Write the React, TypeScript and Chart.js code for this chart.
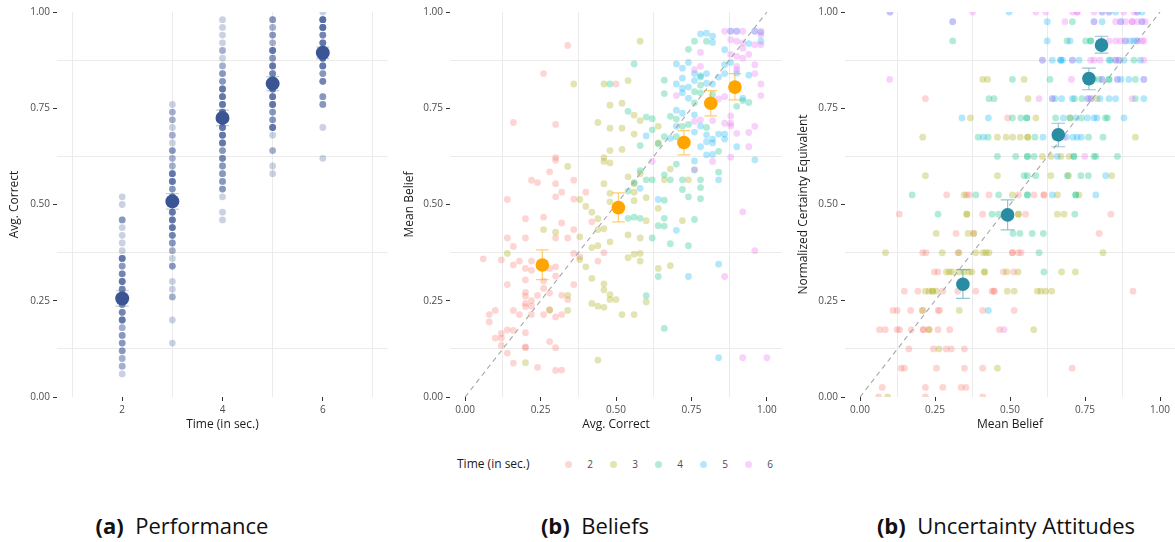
import React, { useEffect, useRef } from "react";
import { Chart, registerables } from "chart.js";

Chart.register(...registerables);

const FONT = "'Open Sans', 'Noto Sans', sans-serif";
const GRID = "#ebebeb";
const TICK = "#333333";
const NONE = "rgba(0,0,0,0)";

// ---------- (a) Performance: [avg. correct, participants at that value] ----------
const timeLevels = [2, 3, 4, 5, 6];
const perfT2 = [[0.52,1],[0.5,1],[0.46,3],[0.44,1],[0.42,1],[0.4,1],[0.38,1],[0.36,5],[0.34,3],[0.32,4],[0.3,5],[0.28,4],[0.26,3],[0.24,3],[0.22,4],[0.2,5],[0.18,2],[0.16,3],[0.14,3],[0.12,3],[0.1,2],[0.08,2],[0.06,1]];
const perfT3 = [[0.76,1],[0.74,2],[0.72,2],[0.7,1],[0.68,2],[0.66,1],[0.64,3],[0.62,2],[0.6,2],[0.58,5],[0.56,5],[0.54,3],[0.52,4],[0.5,4],[0.48,5],[0.46,5],[0.44,5],[0.42,4],[0.4,3],[0.38,2],[0.36,1],[0.34,3],[0.3,1],[0.28,1],[0.26,2],[0.2,1],[0.14,1]];
const perfT4 = [[0.98,1],[0.96,1],[0.94,1],[0.92,1],[0.9,2],[0.88,1],[0.86,2],[0.84,3],[0.82,3],[0.8,5],[0.78,5],[0.76,5],[0.74,5],[0.72,5],[0.7,5],[0.68,5],[0.66,5],[0.64,3],[0.62,4],[0.6,3],[0.58,3],[0.56,3],[0.54,3],[0.52,1],[0.48,1],[0.46,1]];
const perfT5 = [[0.98,3],[0.96,2],[0.94,3],[0.92,2],[0.9,5],[0.88,3],[0.86,5],[0.84,4],[0.82,5],[0.8,5],[0.78,5],[0.76,5],[0.74,3],[0.72,3],[0.7,5],[0.68,1],[0.64,2],[0.6,1],[0.58,1]];
const perfT6 = [[1,1],[0.98,6],[0.96,6],[0.94,4],[0.92,5],[0.9,6],[0.88,6],[0.86,5],[0.84,3],[0.82,4],[0.78,3],[0.76,3],[0.7,1],[0.62,1]];
const perfMeans = [0.256, 0.508, 0.725, 0.814, 0.894];
const perfLow = [0.236, 0.488, 0.705, 0.796, 0.879];
const perfHigh = [0.276, 0.528, 0.745, 0.832, 0.909];

// ---------- (b) Beliefs: [avg. correct, mean belief] ----------
const belT2 = [[0.34,0.913],[0.26,0.84],[0.16,0.713],[0.3,0.708],[0.3,0.622],[0.3,0.615],[0.28,0.585],[0.22,0.563],[0.24,0.557],[0.3,0.554],[0.36,0.563],[0.32,0.532],[0.4,0.532],[0.14,0.513],[0.3,0.52],[0.36,0.514],[0.2,0.463],[0.26,0.467],[0.32,0.452],[0.42,0.455],[0.14,0.413],[0.2,0.413],[0.3,0.413],[0.34,0.413],[0.16,0.391],[0.36,0.435],[0.06,0.359],[0.12,0.356],[0.18,0.353],[0.22,0.353],[0.36,0.373],[0.46,0.375],[0.38,0.364],[0.44,0.353],[0.16,0.343],[0.2,0.334],[0.22,0.329],[0.26,0.338],[0.28,0.334],[0.3,0.338],[0.2,0.304],[0.26,0.301],[0.3,0.314],[0.14,0.292],[0.36,0.292],[0.26,0.282],[0.2,0.272],[0.24,0.264],[0.28,0.27],[0.2,0.262],[0.32,0.264],[0.22,0.25],[0.2,0.243],[0.34,0.253],[0.2,0.235],[0.22,0.236],[0.28,0.226],[0.16,0.225],[0.1,0.225],[0.08,0.214],[0.18,0.214],[0.22,0.214],[0.26,0.214],[0.3,0.208],[0.32,0.214],[0.08,0.195],[0.12,0.165],[0.14,0.174],[0.16,0.173],[0.2,0.167],[0.1,0.153],[0.12,0.153],[0.12,0.134],[0.2,0.13],[0.2,0.128],[0.14,0.114],[0.28,0.144],[0.3,0.128],[0.16,0.088],[0.24,0.077],[0.3,0.069],[0.32,0.07],[0.5,0.813]];
const belT3 = [[0.58,0.924],[0.36,0.813],[0.46,0.813],[0.54,0.822],[0.48,0.758],[0.52,0.763],[0.56,0.732],[0.58,0.718],[0.44,0.713],[0.48,0.698],[0.52,0.698],[0.56,0.683],[0.64,0.703],[0.48,0.64],[0.52,0.643],[0.46,0.622],[0.46,0.612],[0.48,0.608],[0.34,0.599],[0.64,0.66],[0.68,0.592],[0.66,0.564],[0.74,0.564],[0.58,0.58],[0.54,0.572],[0.56,0.554],[0.46,0.554],[0.38,0.513],[0.4,0.495],[0.48,0.529],[0.56,0.532],[0.56,0.51],[0.6,0.518],[0.48,0.507],[0.64,0.49],[0.42,0.48],[0.44,0.463],[0.6,0.458],[0.26,0.435],[0.3,0.428],[0.38,0.416],[0.46,0.437],[0.44,0.435],[0.58,0.413],[0.48,0.403],[0.54,0.421],[0.14,0.373],[0.42,0.388],[0.44,0.393],[0.56,0.371],[0.58,0.373],[0.54,0.362],[0.38,0.357],[0.58,0.353],[0.4,0.338],[0.68,0.341],[0.64,0.334],[0.42,0.308],[0.46,0.294],[0.46,0.278],[0.48,0.266],[0.48,0.253],[0.5,0.253],[0.34,0.264],[0.42,0.243],[0.44,0.236],[0.46,0.233],[0.34,0.225],[0.28,0.226],[0.52,0.214],[0.56,0.214],[0.6,0.247],[0.2,0.089],[0.44,0.096],[0.72,0.458]];
const belT4 = [[0.56,0.865],[0.48,0.813],[0.66,0.823],[0.66,0.788],[0.54,0.742],[0.6,0.727],[0.62,0.723],[0.58,0.653],[0.62,0.694],[0.66,0.676],[0.7,0.722],[0.68,0.729],[0.72,0.703],[0.74,0.708],[0.7,0.676],[0.76,0.793],[0.76,0.764],[0.78,0.831],[0.74,0.903],[0.76,0.924],[0.8,0.924],[0.64,0.658],[0.58,0.588],[0.6,0.564],[0.62,0.564],[0.66,0.577],[0.68,0.564],[0.7,0.605],[0.72,0.564],[0.72,0.539],[0.74,0.52],[0.76,0.59],[0.78,0.564],[0.78,0.544],[0.78,0.515],[0.56,0.557],[0.54,0.535],[0.54,0.464],[0.56,0.467],[0.58,0.464],[0.66,0.511],[0.66,0.464],[0.66,0.444],[0.64,0.445],[0.68,0.398],[0.76,0.461],[0.74,0.393],[0.62,0.413],[0.64,0.313],[0.6,0.263],[0.66,0.178],[0.9,0.755],[0.94,0.765],[0.92,0.77],[0.84,0.638],[0.84,0.584],[0.82,0.786],[0.78,0.79],[0.78,0.81],[0.8,0.7]];
const belT5 = [[0.78,0.943],[0.8,0.945],[0.82,0.937],[0.82,0.921],[0.86,0.902],[0.7,0.865],[0.72,0.854],[0.74,0.869],[0.72,0.828],[0.76,0.84],[0.78,0.835],[0.8,0.84],[0.7,0.813],[0.72,0.802],[0.74,0.805],[0.76,0.822],[0.8,0.815],[0.82,0.813],[0.84,0.831],[0.86,0.84],[0.86,0.863],[0.88,0.869],[0.9,0.841],[0.72,0.79],[0.74,0.776],[0.7,0.745],[0.72,0.737],[0.68,0.672],[0.7,0.703],[0.76,0.733],[0.76,0.688],[0.78,0.704],[0.78,0.65],[0.8,0.681],[0.8,0.663],[0.8,0.629],[0.82,0.63],[0.84,0.683],[0.86,0.683],[0.86,0.67],[0.6,0.678],[0.58,0.542],[0.64,0.513],[0.7,0.433],[0.74,0.313],[0.84,0.564],[0.84,0.345],[0.84,0.102],[0.76,0.613],[0.9,0.65],[0.88,0.95],[0.9,0.95],[0.94,0.918],[0.98,0.947],[0.98,0.924],[0.96,0.95],[0.96,0.616],[0.94,0.836],[0.92,0.776],[0.82,0.66],[0.82,0.67]];
const belT6 = [[0.88,0.95],[0.9,0.95],[0.92,0.95],[0.96,0.95],[0.98,0.95],[0.88,0.928],[0.9,0.924],[0.96,0.915],[0.98,0.915],[0.86,0.95],[0.78,0.895],[0.92,0.906],[0.94,0.89],[0.88,0.89],[0.9,0.885],[0.92,0.88],[0.76,0.85],[0.78,0.859],[0.9,0.859],[0.9,0.85],[0.96,0.863],[0.96,0.84],[0.98,0.813],[0.98,0.783],[0.7,0.783],[0.84,0.774],[0.86,0.78],[0.86,0.711],[0.88,0.711],[0.88,0.73],[0.88,0.704],[0.76,0.716],[0.78,0.72],[0.82,0.718],[0.9,0.685],[0.94,0.687],[0.96,0.703],[0.88,0.623],[0.82,0.612],[0.76,0.59],[0.62,0.612],[0.94,0.65],[0.92,0.481],[0.96,0.38],[0.86,0.313],[0.92,0.102],[1,0.102],[0.92,0.92],[0.98,0.94]];
const beliefMeans = [0.343, 0.492, 0.661, 0.763, 0.805];
const beliefLow = [0.305, 0.455, 0.629, 0.73, 0.772];
const beliefHigh = [0.382, 0.53, 0.692, 0.796, 0.84];

// ---------- (b) Uncertainty attitudes: [mean belief, normalized certainty equivalent] ----------
const ceT2 = [[0.218,0.775],[0.492,0.725],[0.289,0.525],[0.355,0.525],[0.364,0.525],[0.43,0.525],[0.528,0.525],[0.58,0.525],[0.613,0.525],[0.613,0.525],[0.131,0.475],[0.409,0.475],[0.552,0.475],[0.836,0.475],[0.32,0.425],[0.378,0.425],[0.797,0.425],[0.209,0.375],[0.22,0.375],[0.327,0.375],[0.508,0.375],[0.508,0.375],[0.528,0.375],[0.537,0.375],[0.248,0.325],[0.26,0.325],[0.478,0.325],[0.512,0.325],[0.148,0.275],[0.193,0.275],[0.276,0.275],[0.326,0.275],[0.386,0.275],[0.44,0.275],[0.447,0.275],[0.447,0.275],[0.91,0.275],[0.11,0.225],[0.124,0.225],[0.169,0.225],[0.21,0.225],[0.26,0.225],[0.265,0.225],[0.409,0.225],[0.514,0.225],[0.065,0.175],[0.084,0.175],[0.124,0.175],[0.132,0.175],[0.171,0.175],[0.211,0.175],[0.211,0.175],[0.23,0.175],[0.26,0.175],[0.299,0.175],[0.465,0.175],[0.163,0.125],[0.245,0.125],[0.287,0.125],[0.304,0.125],[0.348,0.125],[0.137,0.075],[0.148,0.075],[0.255,0.075],[0.348,0.075],[0.409,0.075],[0.707,0.075],[0.074,0.025],[0.218,0.025],[0.276,0.025],[0.337,0.025],[0.353,0.025],[0.062,0],[0.218,0],[0.409,0]];
const ceT3 = [[0.409,0.825],[0.425,0.825],[0.547,0.825],[0.56,0.775],[0.79,0.775],[0.368,0.725],[0.586,0.725],[0.7,0.725],[0.209,0.675],[0.458,0.675],[0.487,0.675],[0.509,0.675],[0.534,0.675],[0.559,0.675],[0.559,0.675],[0.66,0.675],[0.918,0.675],[0.608,0.625],[0.636,0.625],[0.67,0.625],[0.697,0.625],[0.218,0.575],[0.458,0.575],[0.636,0.575],[0.695,0.575],[0.839,0.575],[0.347,0.525],[0.508,0.525],[0.658,0.525],[0.73,0.525],[0.356,0.475],[0.356,0.475],[0.528,0.475],[0.528,0.475],[0.658,0.475],[0.68,0.475],[0.254,0.425],[0.36,0.425],[0.38,0.425],[0.085,0.375],[0.274,0.375],[0.33,0.375],[0.386,0.375],[0.41,0.375],[0.42,0.375],[0.43,0.375],[0.81,0.375],[0.288,0.325],[0.298,0.325],[0.308,0.325],[0.33,0.325],[0.346,0.325],[0.363,0.325],[0.373,0.325],[0.415,0.325],[0.415,0.325],[0.489,0.325],[0.527,0.325],[0.672,0.325],[0.718,0.325],[0.218,0.275],[0.23,0.275],[0.242,0.275],[0.242,0.275],[0.255,0.275],[0.491,0.275],[0.514,0.275],[0.591,0.275],[0.603,0.275],[0.619,0.275],[0.639,0.275],[0.207,0.225],[0.331,0.225],[0.23,0.175],[0.579,0.175],[0.263,0.125],[0.458,0.075],[0.092,0]];
const ceT4 = [[0.708,0.975],[0.309,0.925],[0.69,0.925],[0.752,0.925],[0.769,0.925],[0.769,0.925],[0.835,0.875],[0.913,0.875],[0.508,0.825],[0.633,0.825],[0.78,0.825],[0.797,0.825],[0.83,0.825],[0.83,0.825],[0.918,0.825],[0.43,0.775],[0.447,0.775],[0.715,0.775],[0.74,0.775],[0.918,0.775],[0.508,0.725],[0.536,0.725],[0.556,0.725],[0.556,0.725],[0.652,0.725],[0.7,0.725],[0.738,0.725],[0.818,0.725],[0.825,0.725],[0.394,0.675],[0.427,0.675],[0.583,0.675],[0.65,0.675],[0.762,0.675],[0.81,0.675],[0.458,0.625],[0.519,0.625],[0.558,0.625],[0.558,0.625],[0.58,0.625],[0.713,0.625],[0.713,0.625],[0.78,0.625],[0.786,0.625],[0.858,0.625],[0.547,0.575],[0.558,0.575],[0.586,0.575],[0.691,0.575],[0.736,0.575],[0.761,0.575],[0.174,0.525],[0.386,0.525],[0.462,0.525],[0.558,0.525],[0.558,0.525],[0.719,0.525],[0.719,0.525],[0.26,0.475],[0.44,0.475],[0.462,0.475],[0.716,0.475],[0.51,0.425],[0.533,0.425],[0.574,0.425],[0.611,0.425],[0.597,0.375],[0.613,0.325]];
const ceT5 = [[0.1,1],[0.497,1],[0.807,1],[0.83,1],[0.852,1],[0.924,1],[0.94,1],[0.309,0.975],[0.624,0.975],[0.78,0.975],[0.807,0.975],[0.869,0.975],[0.94,0.975],[0.624,0.925],[0.7,0.925],[0.885,0.925],[0.902,0.925],[0.913,0.925],[0.924,0.925],[0.608,0.875],[0.641,0.875],[0.669,0.875],[0.669,0.875],[0.675,0.875],[0.708,0.875],[0.73,0.875],[0.83,0.875],[0.852,0.875],[0.863,0.875],[0.88,0.875],[0.935,0.875],[0.807,0.825],[0.858,0.825],[0.87,0.825],[0.896,0.825],[0.946,0.825],[0.641,0.775],[0.65,0.775],[0.672,0.775],[0.708,0.775],[0.76,0.775],[0.77,0.775],[0.8,0.775],[0.83,0.775],[0.852,0.775],[0.946,0.775],[0.34,0.725],[0.428,0.725],[0.678,0.725],[0.72,0.725],[0.758,0.725],[0.78,0.725],[0.79,0.725],[0.88,0.725],[0.411,0.675],[0.61,0.675],[0.688,0.675],[0.71,0.675],[0.724,0.675],[0.738,0.675],[0.658,0.625],[0.819,0.575],[0.641,0.525],[0.786,0.525],[0.428,0.225]];
const ceT6 = [[0.1,1],[0.375,1],[0.586,1],[0.619,1],[0.708,1],[0.724,1],[0.724,1],[0.78,1],[0.807,1],[0.83,1],[0.879,1],[0.913,1],[0.924,1],[0.309,0.975],[0.683,0.975],[0.78,0.975],[0.852,0.975],[0.869,0.975],[0.885,0.975],[0.907,0.975],[0.907,0.975],[0.924,0.975],[0.94,0.975],[0.951,0.975],[0.807,0.925],[0.83,0.925],[0.852,0.925],[0.869,0.925],[0.885,0.925],[0.924,0.925],[0.94,0.925],[0.946,0.925],[0.608,0.875],[0.708,0.875],[0.769,0.875],[0.78,0.875],[0.8,0.875],[0.852,0.875],[0.863,0.875],[0.946,0.875],[0.099,0.825],[0.705,0.825],[0.807,0.825],[0.858,0.825],[0.946,0.825],[0.597,0.775],[0.641,0.775],[0.76,0.775],[0.77,0.775],[0.907,0.775],[0.68,0.675],[0.749,0.625],[0.48,0.175]];
const ceMeans = [0.293, 0.473, 0.681, 0.827, 0.914];
const ceLow = [0.256, 0.434, 0.65, 0.798, 0.893];
const ceHigh = [0.331, 0.512, 0.711, 0.854, 0.937];

// Axis breaks
const unitMajor = [0, 0.25, 0.5, 0.75, 1];
const unitMinor = [0.125, 0.375, 0.625, 0.875];
const timeMajor = [2, 4, 6];
const timeMinor = [1, 3, 5, 7];

const timeColors = ["#F8766D", "#A3A500", "#00BF7D", "#00B0F6", "#E76BF3"];
const fade = (hex: string, a: number) => {
  const n = parseInt(hex.slice(1), 16);
  return `rgba(${(n >> 16) & 255},${(n >> 8) & 255},${n & 255},${a})`;
};

function axis(o: {
  min: number; max: number; major: number[]; minor: number[];
  fmt: (v: number) => string; title: string; fit: number; titlePad: number; horizontal: boolean;
}) {
  const all = [...o.major, ...o.minor].sort((a, b) => a - b);
  const isMajor = (v: number) => o.major.some((m) => Math.abs(m - v) < 1e-9);
  return {
    type: "linear",
    min: o.min,
    max: o.max,
    bounds: "data",
    afterBuildTicks: (s: any) => { s.ticks = all.map((v) => ({ value: v })); },
    afterFit: (s: any) => { if (o.horizontal) s.height = o.fit; else s.width = o.fit; },
    border: { display: false },
    grid: {
      color: (c: any) => (c.tick && isMajor(c.tick.value) ? NONE : GRID),
      tickColor: (c: any) => (c.tick && isMajor(c.tick.value) ? TICK : NONE),
      tickLength: 4,
      lineWidth: 1,
    },
    ticks: {
      callback: (v: number) => (isMajor(v) ? o.fmt(v) : ""),
      color: "#4d4d4d",
      font: { family: FONT, size: 10 },
      padding: 3,
      autoSkip: false,
      maxRotation: 0,
    },
    title: {
      display: true,
      text: o.title,
      color: "#1a1a1a",
      font: { family: FONT, size: 12 },
      padding: o.horizontal ? { top: 0, bottom: o.titlePad } : { top: o.titlePad, bottom: 0 },
    },
  };
}

function dots(points: number[][], color: string, radius: number, order: number) {
  return {
    type: "scatter",
    data: points.map(([x, y]) => ({ x, y })),
    backgroundColor: color,
    borderWidth: 0,
    pointRadius: radius,
    pointHoverRadius: radius,
    clip: 0,
    order,
  };
}

// Vertical bars with caps, built from the mean arrays
function errorBars(xs: number[], lo: number[], hi: number[], halfW: number, color: string, order: number) {
  const d: any[] = [];
  xs.forEach((x, i) => {
    d.push({ x, y: lo[i] }, { x, y: hi[i] }, { x, y: null });
    d.push({ x: x - halfW, y: lo[i] }, { x: x + halfW, y: lo[i] }, { x, y: null });
    d.push({ x: x - halfW, y: hi[i] }, { x: x + halfW, y: hi[i] }, { x, y: null });
  });
  return { type: "line", data: d, borderColor: color, borderWidth: 1.2, pointRadius: 0, spanGaps: false, order };
}

function diagonal(order: number) {
  return {
    type: "line",
    data: [{ x: 0, y: 0 }, { x: 1, y: 1 }],
    borderColor: "#a6a6a6",
    borderWidth: 1.1,
    borderDash: [5, 4],
    pointRadius: 0,
    order,
  };
}

function baseOptions(padRight: number, x: any, y: any) {
  return {
    responsive: false,
    animation: false,
    devicePixelRatio: 1,
    events: [],
    layout: { autoPadding: false, padding: { top: 12, right: padRight, left: 0, bottom: 0 } },
    plugins: { legend: { display: false }, tooltip: { enabled: false } },
    scales: { x, y },
  };
}

const fmt2 = (v: number) => v.toFixed(2);

function performanceConfig() {
  const sets = [perfT2, perfT3, perfT4, perfT5, perfT6];
  const pts: number[][] = [];
  sets.forEach((s, i) => s.forEach(([v, n]) => { for (let k = 0; k < n; k++) pts.push([timeLevels[i], v]); }));
  const means = timeLevels.map((t, i) => [t, perfMeans[i]]);
  return {
    type: "scatter",
    data: {
      datasets: [
        dots(means, "#3a5494", 7, 0),
        errorBars(timeLevels, perfLow, perfHigh, 0.13, "rgba(59,85,148,0.3)", 1),
        dots(pts, "rgba(59,85,148,0.27)", 3.4, 2),
      ],
    },
    options: baseOptions(
      2,
      axis({ min: 0.7, max: 7.3, major: timeMajor, minor: timeMinor, fmt: (v) => String(v), title: "Time (in sec.)", fit: 43, titlePad: 8.3, horizontal: true }),
      axis({ min: 0, max: 1, major: unitMajor, minor: unitMinor, fmt: fmt2, title: "Avg. Correct", fit: 57, titlePad: 7.8, horizontal: false })
    ),
  };
}

function beliefConfig() {
  const groups = [belT2, belT3, belT4, belT5, belT6];
  const means = perfMeans.map((x, i) => [x, beliefMeans[i]]);
  return {
    type: "scatter",
    data: {
      datasets: [
        dots(means, "#ffa500", 6.8, 0),
        errorBars(perfMeans, beliefLow, beliefHigh, 0.021, "rgba(255,165,0,0.55)", 1),
        diagonal(2),
        ...groups.map((g, i) => dots(g, fade(timeColors[i], 0.3), 3.4, 7 - i)),
      ],
    },
    options: baseOptions(
      3,
      axis({ min: -0.05, max: 1.05, major: unitMajor, minor: unitMinor, fmt: fmt2, title: "Avg. Correct", fit: 43, titlePad: 8.3, horizontal: true }),
      axis({ min: 0, max: 1, major: unitMajor, minor: unitMinor, fmt: fmt2, title: "Mean Belief", fit: 60, titlePad: 12.8, horizontal: false })
    ),
  };
}

function attitudeConfig() {
  const groups = [ceT2, ceT3, ceT4, ceT5, ceT6];
  const means = beliefMeans.map((x, i) => [x, ceMeans[i]]);
  return {
    type: "scatter",
    data: {
      datasets: [
        dots(means, "#2a8ca2", 6.8, 0),
        errorBars(beliefMeans, ceLow, ceHigh, 0.023, "rgba(42,140,162,0.5)", 1),
        diagonal(2),
        ...groups.map((g, i) => dots(g, fade(timeColors[i], 0.3), 3.4, 7 - i)),
      ],
    },
    options: baseOptions(
      0,
      axis({ min: -0.05, max: 1.05, major: unitMajor, minor: unitMinor, fmt: fmt2, title: "Mean Belief", fit: 43, titlePad: 8.3, horizontal: true }),
      axis({ min: 0, max: 1, major: unitMajor, minor: unitMinor, fmt: fmt2, title: "Normalized Certainty Equivalent", fit: 60, titlePad: 11.8, horizontal: false })
    ),
  };
}

function Panel({ left, width, build }: { left: number; width: number; build: () => any }) {
  const ref = useRef<HTMLCanvasElement>(null);
  useEffect(() => {
    const chart = new Chart(ref.current as HTMLCanvasElement, build());
    return () => chart.destroy();
  }, []);
  return (
    <div style={{ position: "absolute", left, top: 0, width, height: 440 }}>
      <canvas ref={ref} width={width} height={440} style={{ width, height: 440, display: "block" }} />
    </div>
  );
}

const legendItems = ["2", "3", "4", "5", "6"];
const legendDotX = [568, 613, 658, 703, 748];

function Caption({ center, tag, text }: { center: number; tag: string; text: string }) {
  return (
    <div
      style={{
        position: "absolute", left: center - 250, width: 500, top: 510, height: 30,
        textAlign: "center", fontFamily: FONT, fontSize: 22, lineHeight: "30px", color: "#111", whiteSpace: "nowrap",
      }}
    >
      <span style={{ fontWeight: 700 }}>{tag}</span>
      <span>{"\u00a0 " + text}</span>
    </div>
  );
}

export default function App() {
  return (
    <div style={{ position: "absolute", left: 0, top: 0, width: 1175, height: 542, background: "#fff", overflow: "hidden" }}>
      <Panel left={0} width={390} build={performanceConfig} />
      <Panel left={390} width={395} build={beliefConfig} />
      <Panel left={785} width={390} build={attitudeConfig} />

      <div style={{ position: "absolute", left: 457, top: 456, fontFamily: FONT, fontSize: 12, lineHeight: "16px", color: "#1a1a1a" }}>
        Time (in sec.)
      </div>
      {legendItems.map((label, i) => (
        <React.Fragment key={label}>
          <div
            style={{
              position: "absolute", left: legendDotX[i] - 3.5, top: 460.5, width: 7, height: 7,
              borderRadius: "50%", background: fade(timeColors[i], 0.3),
            }}
          />
          <div
            style={{
              position: "absolute", left: legendDotX[i] + 16, top: 456, width: 12, textAlign: "center",
              fontFamily: FONT, fontSize: 10, lineHeight: "16px", color: "#4d4d4d",
            }}
          >
            {label}
          </div>
        </React.Fragment>
      ))}

      <Caption center={182} tag="(a)" text="Performance" />
      <Caption center={595} tag="(b)" text="Beliefs" />
      <Caption center={1006} tag="(b)" text="Uncertainty Attitudes" />
    </div>
  );
}
